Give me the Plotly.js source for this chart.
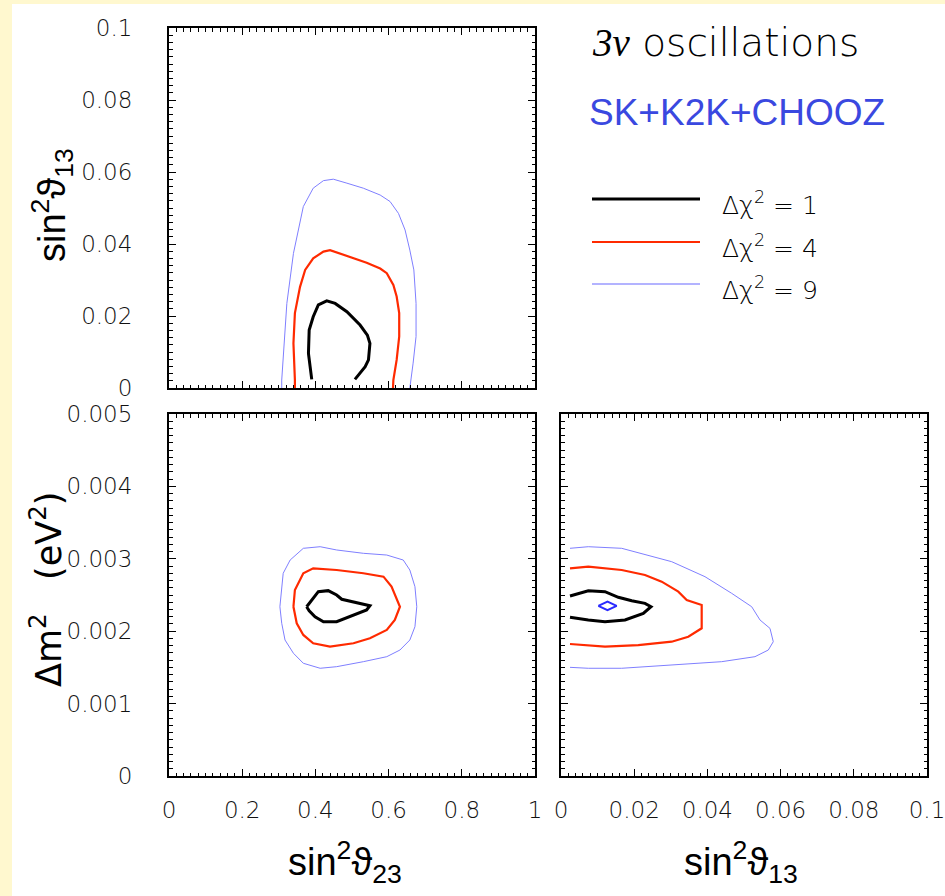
<!DOCTYPE html>
<html><head><meta charset="utf-8">
<script src="https://cdn.plot.ly/plotly-3.0.1.min.js"></script>
<style>
html,body{margin:0;padding:0;background:#fff8cf;width:945px;height:896px;overflow:hidden;}
#chart{position:absolute;left:12px;top:4px;width:933px;height:892px;}
</style></head><body><div id="chart"></div>
<script>
// ---------- data ----------
const levelNames = ["Δχ² = 1", "Δχ² = 4", "Δχ² = 9"];
const levelColors = ["#000000", "#ff2a00", "#7f7fff"];
const levelWidths = [3, 2.2, 1];

// tick labels
const s23TickVals = [0, 0.2, 0.4, 0.6, 0.8, 1];
const s23TickText = ["0", "0.2", "0.4", "0.6", "0.8", "1"];
const s13TickVals = [0, 0.02, 0.04, 0.06, 0.08, 0.1];
const s13TickText = ["0", "0.02", "0.04", "0.06", "0.08", "0.1"];
const dm2TickVals = [0, 0.001, 0.002, 0.003, 0.004, 0.005];
const dm2TickText = ["0", "0.001", "0.002", "0.003", "0.004", "0.005"];

// top-left panel: sin^2 theta23 (x) vs sin^2 theta13 (y)
const tl_c1_x = [0.390,0.381,0.383,0.394,0.408,0.431,0.454,0.486,0.522,0.542,0.549,0.545,0.536,0.508];
const tl_c1_y = [0.0024,0.0096,0.0161,0.0198,0.0231,0.0242,0.0235,0.0212,0.0175,0.0147,0.0124,0.0078,0.0059,0.0024];
const tl_c4_x = [0.344,0.344,0.340,0.344,0.358,0.372,0.394,0.422,0.440,0.467,0.513,0.540,0.577,0.595,0.613,0.622,0.629,0.629,0.622,0.613,0.612];
const tl_c4_y = [0,0.0022,0.0124,0.0208,0.0281,0.0328,0.0360,0.0379,0.0383,0.0374,0.0357,0.0348,0.0332,0.0319,0.0286,0.0254,0.0208,0.0143,0.0078,0.0022,0];
const tl_c9_x = [0.308,0.308,0.322,0.340,0.367,0.394,0.422,0.449,0.486,0.531,0.577,0.604,0.627,0.645,0.658,0.669,0.675,0.675,0.667,0.658];
const tl_c9_y = [0,0.0022,0.0235,0.0374,0.0504,0.0555,0.0576,0.0580,0.0569,0.0555,0.0536,0.0518,0.0485,0.0439,0.0383,0.0328,0.0235,0.0143,0.0069,0];

// bottom-left panel: sin^2 theta23 (x) vs Delta m^2 (y)
const bl_c1_x = [0.376,0.390,0.408,0.435,0.458,0.472,0.504,0.549,0.540,0.495,0.458,0.422,0.399,0.383,0.376];
const bl_c1_y = [0.002338,0.002431,0.002546,0.00256,0.0025,0.002441,0.002407,0.002352,0.002293,0.0022,0.002131,0.002131,0.0022,0.002283,0.002338];
const bl_c4_x = [0.340,0.344,0.367,0.394,0.458,0.531,0.586,0.608,0.631,0.617,0.595,0.549,0.504,0.440,0.394,0.367,0.349,0.340];
const bl_c4_y = [0.002338,0.002569,0.0028,0.002869,0.002845,0.0028,0.002753,0.002615,0.002338,0.002155,0.002017,0.001902,0.001833,0.001786,0.001833,0.001948,0.002109,0.002338];
const bl_c9_x = [0.303,0.312,0.331,0.367,0.413,0.458,0.531,0.595,0.640,0.658,0.672,0.677,0.672,0.658,0.631,0.595,0.531,0.458,0.413,0.367,0.340,0.317,0.308,0.303];
const bl_c9_y = [0.002338,0.0028,0.002983,0.003145,0.003167,0.003122,0.003076,0.003052,0.002983,0.002845,0.002615,0.002338,0.002062,0.001878,0.00174,0.001648,0.001579,0.00151,0.001488,0.001557,0.001695,0.001878,0.002109,0.002338];

// bottom-right panel: sin^2 theta13 (x) vs Delta m^2 (y)
const br_c1_x = [0.00246,0.00746,0.01202,0.01566,0.01932,0.02295,0.02459,0.02249,0.01749,0.01202,0.00746,0.00246];
const br_c1_y = [0.002486,0.002559,0.002545,0.002468,0.002421,0.002385,0.002338,0.002247,0.002155,0.002131,0.002155,0.002192];
const br_c4_x = [0.00246,0.00746,0.01658,0.02295,0.02751,0.03205,0.03434,0.03844,0.03844,0.03478,0.03025,0.02112,0.01202,0.00246];
const br_c4_y = [0.002869,0.002891,0.002845,0.002776,0.002684,0.002546,0.002431,0.002362,0.00204,0.001924,0.001855,0.001809,0.001786,0.001823];
const br_c9_x = [0.00246,0.00746,0.01658,0.03025,0.03934,0.04664,0.0521,0.05437,0.0571,0.058,0.05664,0.053,0.0439,0.03025,0.01658,0.00746,0.00246];
const br_c9_y = [0.003145,0.003167,0.003145,0.00296,0.002753,0.002523,0.002338,0.002155,0.002039,0.001855,0.00174,0.001648,0.001579,0.001533,0.001488,0.001488,0.001501];
// best-fit marker (small diamond)
const br_best_x = [0.0102,0.0127,0.0152,0.0127,0.0102];
const br_best_y = [0.00235,0.00241,0.00235,0.00229,0.00235];

// ---------- helpers (absolute page pixel -> paper) ----------
const OX = 12, OY = 4, W = 933, H = 892;
const px = x => (x - OX) / W;
const py = y => 1 - (y - OY) / H;

function contour(xs, ys, lvl, xa, ya) {
  return {type: "scatter", mode: "lines", x: xs, y: ys, xaxis: xa, yaxis: ya,
    name: levelNames[lvl], showlegend: false, hoverinfo: "skip",
    line: {color: levelColors[lvl], width: levelWidths[lvl]}};
}

const traces = [
  contour(tl_c9_x, tl_c9_y, 2, "x", "y"),
  contour(tl_c4_x, tl_c4_y, 1, "x", "y"),
  contour(tl_c1_x, tl_c1_y, 0, "x", "y"),
  contour(bl_c9_x, bl_c9_y, 2, "x2", "y2"),
  contour(bl_c4_x, bl_c4_y, 1, "x2", "y2"),
  contour(bl_c1_x, bl_c1_y, 0, "x2", "y2"),
  contour(br_c9_x, br_c9_y, 2, "x3", "y3"),
  contour(br_c4_x, br_c4_y, 1, "x3", "y3"),
  contour(br_c1_x, br_c1_y, 0, "x3", "y3"),
  {type: "scatter", mode: "lines", x: br_best_x, y: br_best_y, xaxis: "x3", yaxis: "y3",
   name: "best fit", showlegend: false, hoverinfo: "skip", line: {color: "#2b2bff", width: 2}}
];

const tickFont = {family: "DejaVu Sans", size: 23, weight: 200, color: "#111"};
function axis(extra, minorDtick) {
  return Object.assign({
    showline: true, linewidth: 2, linecolor: "#000", mirror: "allticks",
    ticks: "inside", ticklen: 7, tickwidth: 1, tickcolor: "#000",
    showgrid: false, zeroline: false, fixedrange: true, tickmode: "array",
    tickfont: tickFont, ticklabeloverflow: "allow",
    minor: {ticks: "inside", ticklen: 3.5, tickwidth: 1, tickcolor: "#000", tick0: 0, dtick: minorDtick, showgrid: false}
  }, extra);
}

const xDomL = [px(169), px(535)], xDomR = [px(561), px(927)];
const yDomT = [py(388), py(28)], yDomB = [py(776), py(414)];

const titleFont = {family: "Liberation Sans", size: 38, color: "#000"};
const legFont = {family: "DejaVu Sans", size: 25, weight: 200, color: "#000"};
const legY = [199, 242, 284];

const annotations = [
  {text: "sin<sup>2</sup>ϑ<sub>13</sub>", textangle: -90, x: px(52), y: py(205), font: titleFont},
  {text: "Δm<sup>2</sup>&nbsp;&nbsp;&nbsp;(eV<sup>2</sup>)", textangle: -90, x: px(46), y: py(590), font: {family: "DejaVu Sans", size: 35, color: "#000"}},
  {text: "sin<sup>2</sup>ϑ<sub>23</sub>", x: px(345), y: py(862), font: titleFont},
  {text: "sin<sup>2</sup>ϑ<sub>13</sub>", x: px(741), y: py(862), font: titleFont},
  {text: "<span style='font-family:Liberation Serif'><i>3ν</i></span> oscillations", x: px(590), y: py(42), xanchor: "left",
   font: {family: "DejaVu Sans", size: 39, weight: 200, color: "#000"}},
  {text: "SK+K2K+CHOOZ", x: px(587), y: py(113), xanchor: "left", font: {family: "Liberation Sans", size: 37, color: "#3a48e0"}}
].concat(levelNames.map((n, i) => ({
  text: "Δχ<sup>2</sup> = " + ["1", "4", "9"][i], x: px(720), y: py(legY[i] + 4), xanchor: "left", font: legFont
}))).map(a => Object.assign({xref: "paper", yref: "paper", showarrow: false, xanchor: "center", yanchor: "middle"}, a));

const shapes = levelNames.map((n, i) => ({
  type: "line", xref: "paper", yref: "paper", x0: px(592), x1: px(700), y0: py(legY[i]), y1: py(legY[i]),
  line: {color: i === 2 ? "#9a9aff" : levelColors[i], width: [3, 2, 1.5][i]}
}));

const layout = {
  width: W, height: H, margin: {l: 0, r: 0, t: 0, b: 0},
  paper_bgcolor: "#ffffff", plot_bgcolor: "#ffffff", showlegend: false,
  xaxis: axis({domain: xDomL, range: [0, 1], anchor: "y", tickvals: s23TickVals, ticktext: s23TickText, showticklabels: false}, 0.02),
  yaxis: axis({domain: yDomT, range: [0, 0.1], anchor: "x", tickvals: s13TickVals, ticktext: s13TickText, ticklabelstandoff: 30}, 0.002),
  xaxis2: axis({domain: xDomL, range: [0, 1], anchor: "y2", tickvals: s23TickVals, ticktext: s23TickText, ticklabelstandoff: 12}, 0.02),
  yaxis2: axis({domain: yDomB, range: [0, 0.005], anchor: "x2", tickvals: dm2TickVals, ticktext: dm2TickText, ticklabelstandoff: 30}, 0.0001),
  xaxis3: axis({domain: xDomR, range: [0, 0.1], anchor: "y3", tickvals: s13TickVals, ticktext: s13TickText, ticklabelstandoff: 12}, 0.002),
  yaxis3: axis({domain: yDomB, range: [0, 0.005], anchor: "x3", tickvals: dm2TickVals, ticktext: dm2TickText, showticklabels: false}, 0.0001),
  annotations: annotations, shapes: shapes
};

Plotly.newPlot("chart", traces, layout, {staticPlot: true, displayModeBar: false});
</script></body></html>
